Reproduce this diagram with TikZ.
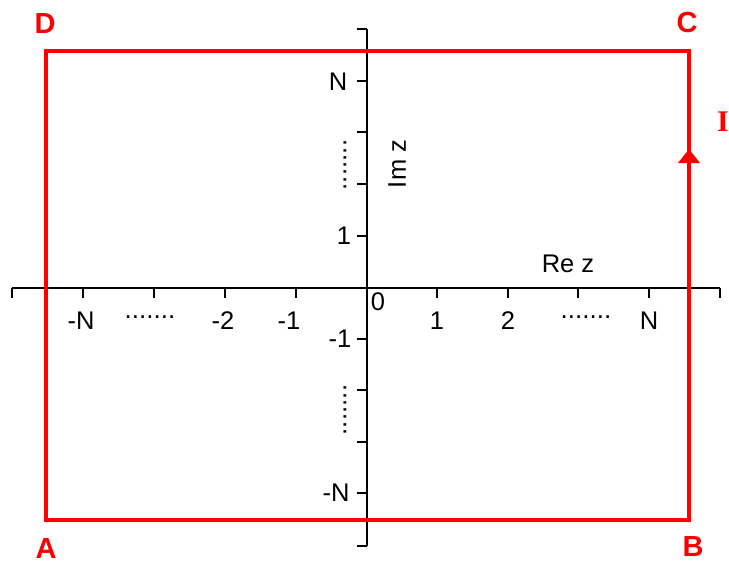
\documentclass[tikz,border=0pt]{standalone}
\usepackage{fontspec}
\setmainfont{Liberation Sans}
\newfontfamily\serifI{Liberation Serif}
\usetikzlibrary{arrows.meta}
\begin{document}
\begin{tikzpicture}[x=1pt,y=-1pt,
  axis/.style={black,line width=2.2pt},
  box/.style={red,line width=3.4pt,line join=miter},
  lbl/.style={inner sep=0pt,font=\fontsize{25.5}{25.5}\selectfont},
  corner/.style={inner sep=0pt,text=red,font=\fontsize{29}{29}\selectfont\bfseries},
  dotsh/.style={inner sep=0pt,font=\fontsize{26}{26}\selectfont}]
\useasboundingbox (0,0) rectangle (729,565);
% axes
\coordinate (xl) at (12,288);
\coordinate (xr) at (720,288);
\coordinate (yt) at (367,29);
\coordinate (yb) at (367,546);
\draw[axis] (xl) -- (xr);
\draw[axis] (yt) -- (yb);
\foreach \x in {12,83,154,225,296,437,508,578,649,720}
  \draw[axis] (\x,288) -- (\x,298);
\foreach \y in {29,81,132,184,236,339,390,442,493,546}
  \draw[axis] (367,\y) -- (357,\y);
% rectangle
\coordinate (A) at (46,520);
\coordinate (B) at (689,520);
\coordinate (C) at (689,51);
\coordinate (D) at (46,51);
\coordinate (tip) at (689,149);
\draw[box] (A) -- (B) -- (C) -- (D) -- cycle;
\draw[red,line width=3.4pt,-{Triangle[width=21pt,length=14pt]}] (B) -- (tip);
% corner labels
\node[corner] (lD) at (45,24) {D};
\node[corner] (lC) at (687,23) {C};
\node[corner] (lA) at (46,549) {A};
\node[corner] (lB) at (693,547) {B};
\node[inner sep=0pt,text=red,font=\fontsize{30}{30}\selectfont\serifI\bfseries] (lI) at (723,122) {I};
% x tick labels
\node[lbl] (xmN) at (81,321) {-N};
\node[dotsh] (xdl) at (150,317) {.......};
\node[lbl] (xm2) at (223,321) {-2};
\node[lbl] (xm1) at (289,321) {-1};
\node[lbl] (x0) at (378,302) {0};
\node[lbl] (x1) at (437,321) {1};
\node[lbl] (x2) at (508,321) {2};
\node[dotsh] (xdr) at (586,317) {.......};
\node[lbl] (xN) at (649,321) {N};
\node[lbl] (rez) at (568,264) {Re z};
% y tick labels
\node[lbl] (yN) at (338,82) {N};
\node[dotsh,rotate=90] (ydt) at (345,165) {.......};
\node[lbl] (y1) at (344,236) {1};
\node[lbl] (ym1) at (340,339) {-1};
\node[dotsh,rotate=90] (ydb) at (345,410) {.......};
\node[lbl] (ymN) at (336,493) {-N};
\node[lbl,rotate=90] (imz) at (397,164) {Im z};
\end{tikzpicture}
\end{document}
